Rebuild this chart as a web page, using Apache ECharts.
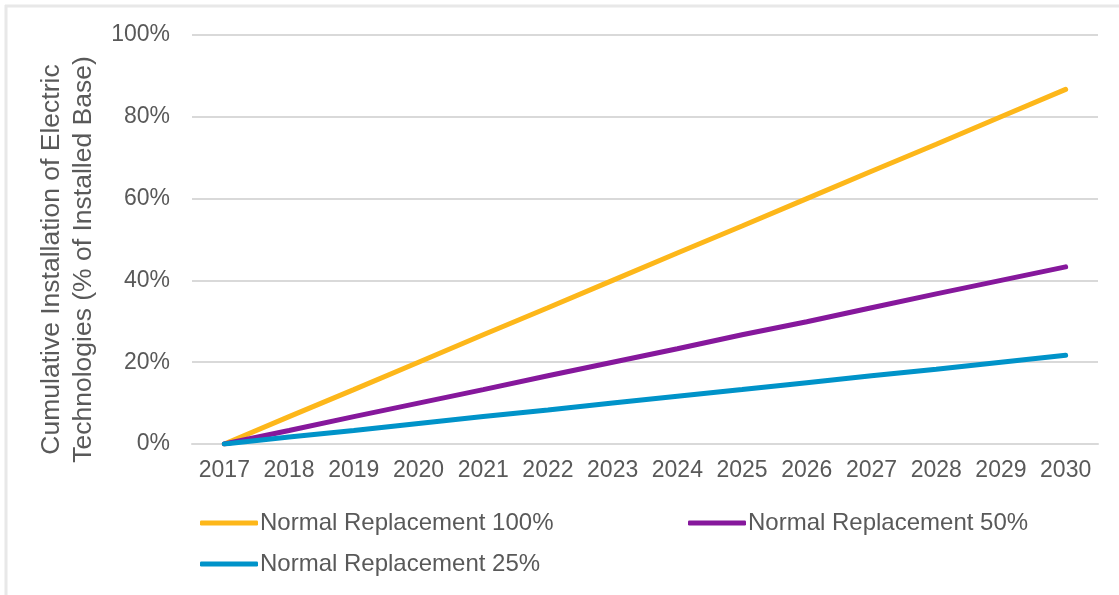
<!DOCTYPE html>
<html><head><meta charset="utf-8">
<script src="https://cdn.jsdelivr.net/npm/echarts@6/dist/echarts.min.js"></script>
<style>html,body{margin:0;padding:0;background:#fff}#c{width:1119px;height:595px}</style>
</head><body><div id="c"></div>
<script>
const years = ['2017','2018','2019','2020','2021','2022','2023','2024','2025','2026','2027','2028','2029','2030'];
const rep100 = [0, 6.7, 13.3, 20.0, 26.7, 33.3, 40.0, 46.7, 53.3, 60.0, 66.7, 73.3, 80.0, 86.7];
const rep50 = [0, 3.3, 6.7, 10.0, 13.3, 16.7, 20.0, 23.3, 26.7, 29.9, 33.3, 36.7, 40.0, 43.3];
const rep25 = [0, 1.7, 3.3, 5.0, 6.7, 8.3, 10.0, 11.7, 13.3, 15.0, 16.7, 18.3, 20.0, 21.7];
const yTicks = ['0%','20%','40%','60%','80%','100%'];

const chart = echarts.init(document.getElementById('c'));
const font = 'Liberation Sans, Arial, sans-serif';
const txt = '#595959';
function lg(name, left, top) {
  return {data:[{name:name}], left:left, top:top, padding:0, icon:'roundRect', itemWidth:58, itemHeight:5, itemGap:0,
    textStyle:{fontFamily:font, fontSize:24, color:txt, padding:[0,0,0,-3]}, selectedMode:false};
}
chart.setOption({
  animation:false,
  graphic:[
    {type:'line', shape:{x1:5,y1:6,x2:1119,y2:6}, style:{stroke:'#e8e8e8', lineWidth:3}},
    {type:'line', shape:{x1:6,y1:5,x2:6,y2:595}, style:{stroke:'#e8e8e8', lineWidth:3}}
  ],
  grid:{left:192, right:21, top:35, bottom:151},
  legend:[lg('Normal Replacement 100%',200,511), lg('Normal Replacement 50%',688,511), lg('Normal Replacement 25%',200,552)],
  xAxis:{type:'category', data:years, boundaryGap:true,
    axisLine:{show:true, lineStyle:{color:'#d9d9d9', width:2}}, axisTick:{show:false},
    axisLabel:{fontFamily:font, fontSize:23, color:txt, margin:15, interval:0, hideOverlap:false}},
  yAxis:{type:'value', min:0, max:100, interval:20,
    axisLabel:{fontFamily:font, fontSize:23, color:txt, margin:22, formatter:(v)=>yTicks[Math.round(v/20)]},
    splitLine:{lineStyle:{color:'#d9d9d9', width:2}},
    name:'Cumulative Installation of Electric\nTechnologies (% of Installed Base)', nameLocation:'middle', nameGap:92,
    nameTextStyle:{fontFamily:font, fontSize:26.5, color:txt, lineHeight:32, padding:[0,40,0,0]}},
  series:[
    {name:'Normal Replacement 100%', type:'line', data:rep100, showSymbol:false, lineStyle:{width:5, color:'#FDB71A', cap:'round'}, itemStyle:{color:'#FDB71A'}},
    {name:'Normal Replacement 50%', type:'line', data:rep50, showSymbol:false, lineStyle:{width:5, color:'#86189C', cap:'round'}, itemStyle:{color:'#86189C'}},
    {name:'Normal Replacement 25%', type:'line', data:rep25, showSymbol:false, lineStyle:{width:5, color:'#0093C9', cap:'round'}, itemStyle:{color:'#0093C9'}}
  ]
});
</script></body></html>
